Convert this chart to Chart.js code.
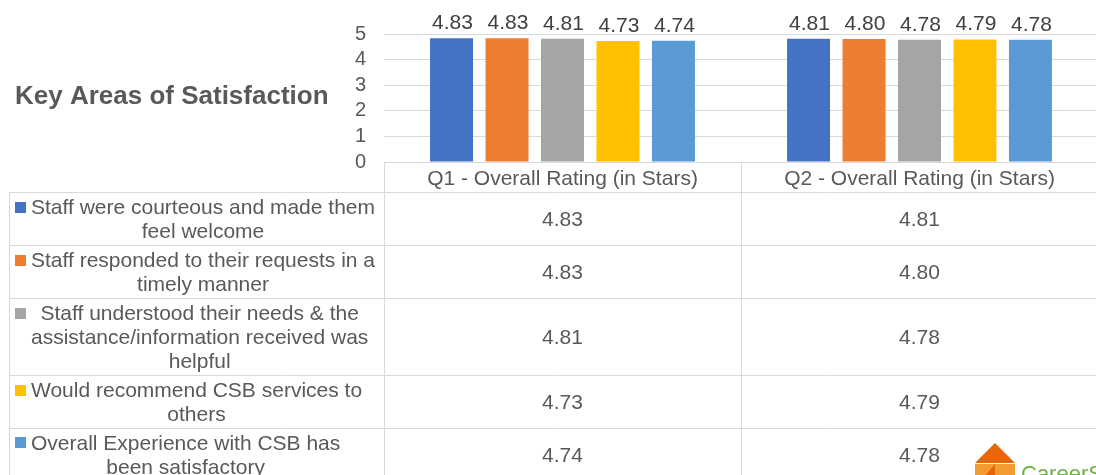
<!DOCTYPE html>
<html>
<head>
<meta charset="utf-8">
<script src="https://cdn.jsdelivr.net/npm/chart.js@4.4.1/dist/chart.umd.min.js"></script>
<style>
  html, body { margin: 0; padding: 0; background: #fff; }
  body { width: 1096px; height: 475px; overflow: hidden; position: relative; }
  #chart { position: absolute; left: 0; top: 0; }
</style>
</head>
<body>
<canvas id="chart" width="1100" height="475"></canvas>
<script>
const chartTitle = 'Key Areas of Satisfaction';
const categories = ['Q1 - Overall Rating (in Stars)', 'Q2 - Overall Rating (in Stars)'];
const seriesNames = [
  ['Staff were courteous and made them', 'feel welcome'],
  ['Staff responded to their requests in a', 'timely manner'],
  ['Staff understood their needs & the', 'assistance/information received was', 'helpful'],
  ['Would recommend CSB services to', 'others'],
  ['Overall Experience with CSB has', 'been satisfactory']
];
const q1Values = [4.83, 4.83, 4.81, 4.73, 4.74];
const q2Values = [4.81, 4.80, 4.78, 4.79, 4.78];
const seriesColors = ['#4472C4', '#ED7D31', '#A5A5A5', '#FFC000', '#5B9BD5'];

const FONT = '"Liberation Sans", Arial, sans-serif';
const TEXT = '#595959';
const LINE = '#d9d9d9';

// table rows under the plot (top of each row, last one is the bottom)
const rowEdges = [192, 245, 298, 375, 428, 480];

const datasets = seriesNames.map((name, i) => ({
  label: name.join(' '),
  data: [q1Values[i], q2Values[i]],
  backgroundColor: seriesColors[i],
  categoryPercentage: 0.777,
  barPercentage: 0.775
}));

// value labels on top of bars
const barLabels = {
  id: 'barLabels',
  afterDatasetsDraw(chart) {
    const ctx = chart.ctx;
    ctx.save();
    ctx.font = '21px ' + FONT;
    ctx.fillStyle = '#404040';
    ctx.textAlign = 'center';
    ctx.textBaseline = 'alphabetic';
    chart.data.datasets.forEach((ds, i) => {
      chart.getDatasetMeta(i).data.forEach((bar, j) => {
        ctx.fillText(ds.data[j].toFixed(2), bar.x + 1, bar.y - 9);
      });
    });
    ctx.restore();
  }
};

// title, data table and logo
const dataTable = {
  id: 'dataTable',
  afterDraw(chart) {
    const ctx = chart.ctx;
    const x = chart.scales.x;
    const area = chart.chartArea;
    const colW = x.width / categories.length;
    const W = chart.width, H = chart.height;
    ctx.save();

    ctx.font = 'bold 26px ' + FONT;
    ctx.fillStyle = TEXT;
    ctx.textAlign = 'left';
    ctx.textBaseline = 'alphabetic';
    ctx.fillText(chartTitle, 15, 104);

    ctx.strokeStyle = LINE;
    ctx.lineWidth = 1;
    ctx.beginPath();
    for (let k = 0; k <= categories.length; k++) {
      const vx = Math.round(x.left + k * colW) + 0.5;
      ctx.moveTo(vx, area.bottom);
      ctx.lineTo(vx, H);
    }
    ctx.moveTo(9.5, rowEdges[0]);
    ctx.lineTo(9.5, H);
    rowEdges.forEach(y => {
      ctx.moveTo(9, y + 0.5);
      ctx.lineTo(W, y + 0.5);
    });
    ctx.stroke();

    ctx.font = '21px ' + FONT;
    ctx.fillStyle = TEXT;
    ctx.textAlign = 'center';
    categories.forEach((c, i) => ctx.fillText(c, x.getPixelForValue(i), 185));

    const lh = 24;
    seriesNames.forEach((lines, r) => {
      const top = rowEdges[r], bottom = rowEdges[r + 1];
      const mid = (top + bottom) / 2;
      const firstC = mid - (lines.length - 1) * lh / 2;
      const blockW = Math.max(...lines.map(l => ctx.measureText(l).width));
      const cx = 31 + blockW / 2;
      ctx.fillStyle = seriesColors[r];
      ctx.fillRect(15, Math.round(firstC) - 5, 11, 11);
      ctx.fillStyle = TEXT;
      ctx.textAlign = 'center';
      lines.forEach((l, k) => ctx.fillText(l, cx, firstC + k * lh + 7.5));
      chart.data.datasets[r].data.forEach((v, j) => {
        ctx.fillText(v.toFixed(2), x.getPixelForValue(j), mid + 7.5);
      });
    });

    // logo corner (cut off by the frame)
    ctx.fillStyle = '#E8650A';
    ctx.beginPath();
    ctx.moveTo(995, 443);
    ctx.lineTo(1015, 463);
    ctx.lineTo(975, 463);
    ctx.closePath();
    ctx.fill();
    ctx.fillStyle = '#F29B30';
    ctx.fillRect(975, 464, 40, 12);
    ctx.fillStyle = '#E8650A';
    ctx.beginPath();
    ctx.moveTo(995, 464);
    ctx.lineTo(985, 476);
    ctx.lineTo(995, 476);
    ctx.closePath();
    ctx.fill();
    ctx.fillStyle = '#6DB33F';
    ctx.textAlign = 'left';
    ctx.font = '22px ' + FONT;
    ctx.fillText('CareerSource', 1021, 481);
    ctx.restore();
  }
};

new Chart(document.getElementById('chart'), {
  type: 'bar',
  data: { labels: categories, datasets: datasets },
  options: {
    responsive: false,
    animation: false,
    devicePixelRatio: 1,
    layout: { padding: { top: 34, bottom: 313, left: 0, right: 2 } },
    plugins: {
      legend: { display: false },
      tooltip: { enabled: false },
      title: { display: false }
    },
    scales: {
      x: { display: false },
      y: {
        min: 0,
        max: 5,
        ticks: { stepSize: 1, autoSkip: false, color: TEXT, font: { family: FONT, size: 20 }, padding: 18 },
        grid: { color: LINE, drawTicks: false },
        border: { display: false },
        afterFit(axis) { axis.width = 384; }
      }
    }
  },
  plugins: [barLabels, dataTable]
});
</script>
</body>
</html>
